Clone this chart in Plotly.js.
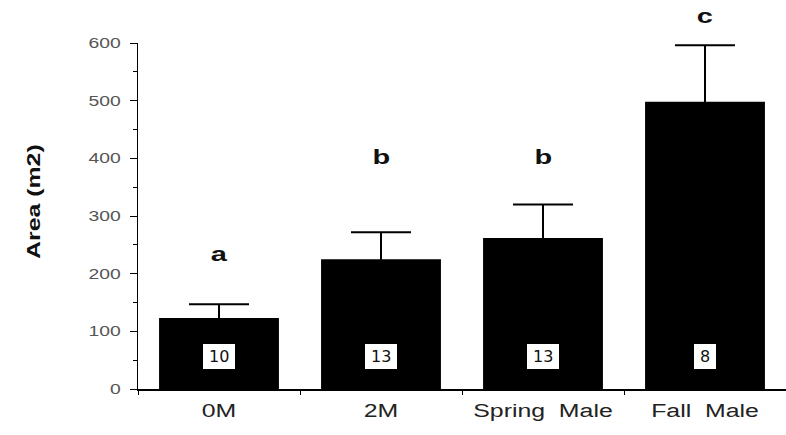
<!DOCTYPE html>
<html>
<head>
<meta charset="utf-8">
<script src="https://cdn.plot.ly/plotly-3.0.1.min.js"></script>
<style>
  html, body { margin: 0; padding: 0; background: #fff; }
  #chart { width: 786px; height: 435px; }
</style>
</head>
<body>
<div id="chart"></div>
<script>
// Home-range area by group, mean + SE, with sample sizes and significance letters
const groups = ['0M', '2M', 'Spring\u00a0\u00a0Male', 'Fall\u00a0\u00a0Male'];
const meanArea = [123, 225, 262, 498];
const seArea = [24, 47, 58, 98];
const sampleSize = ['10', '13', '13', '8'];
const sigLetters = ['a', 'b', 'b', 'c'];
const letterHeight = [235, 404, 404, 648];

const Y_MAX = 600;
const FONT = 'Liberation Sans, Arial, Helvetica, sans-serif';
const WIDE = 1.38; // the typeface on this figure is drawn wide

const bars = {
  type: 'bar',
  x: groups,
  y: meanArea,
  marker: { color: '#000', line: { width: 0 } },
  error_y: {
    type: 'data', symmetric: true, array: seArea,
    color: '#000', thickness: 2, width: 30
  },
  hoverinfo: 'skip'
};

const annotations = [];
// y-axis title
annotations.push({
  xref: 'paper', yref: 'paper', x: -0.1605, y: 0.543,
  text: 'Area (m2)', textangle: -90, showarrow: false,
  xanchor: 'center', yanchor: 'middle',
  font: { family: FONT, size: 18, weight: 'bold', color: '#111' }
});
// significance letters (paper y so the top one may sit above the axis)
groups.forEach((g, i) => {
  annotations.push({
    x: g, y: letterHeight[i] / Y_MAX, xref: 'x', yref: 'paper',
    text: sigLetters[i], showarrow: false,
    xanchor: 'center', yanchor: 'middle',
    font: { family: FONT, size: 21, weight: 'bold', color: '#111' }
  });
});
const firstBox = annotations.length;
// sample sizes in boxes
groups.forEach((g, i) => {
  annotations.push({
    x: g, y: 57, xref: 'x', yref: 'y',
    text: sampleSize[i], showarrow: false,
    xanchor: 'center', yanchor: 'middle',
    bgcolor: '#fff', bordercolor: '#000', borderwidth: 1, borderpad: 6,
    height: 13,
    font: { family: 'DejaVu Sans, sans-serif', size: 16, color: '#111' }
  });
});

const layout = {
  width: 786, height: 435,
  margin: { l: 138, r: 0, t: 43, b: 46 },
  paper_bgcolor: '#fff', plot_bgcolor: '#fff',
  showlegend: false,
  bargap: 0.26,
  xaxis: {
    type: 'category', range: [-0.5, 3.5],
    showline: true, linecolor: '#000', linewidth: 1.5,
    ticks: 'outside', tickson: 'boundaries', ticklen: 4, tickcolor: '#000', tickwidth: 1,
    ticklabelstandoff: 5,
    tickfont: { family: FONT, size: 18, color: '#222' },
    showgrid: false, zeroline: false, fixedrange: true
  },
  yaxis: {
    range: [0, Y_MAX], tick0: 0, dtick: 100,
    showline: true, linecolor: '#000', linewidth: 1.5,
    ticks: 'outside', ticklen: 7, tickcolor: '#000', tickwidth: 1,
    minor: { dtick: 50, ticks: 'outside', ticklen: 4, tickcolor: '#000', tickwidth: 1 },
    ticklabelstandoff: 6,
    tickfont: { family: FONT, size: 14, color: '#555' },
    showgrid: false, zeroline: false, fixedrange: true
  },
  annotations: annotations
};

function widen(el) {
  const w = el.getComputedTextLength();
  if (w > 0) {
    el.setAttribute('textLength', (w * WIDE).toFixed(2));
    el.setAttribute('lengthAdjust', 'spacingAndGlyphs');
  }
}

Plotly.newPlot('chart', [bars], layout, { staticPlot: true }).then(gd => {
  gd.querySelectorAll('.xtick text, .ytick text').forEach(widen);
  gd.querySelectorAll('.annotation').forEach(g => {
    const idx = +g.getAttribute('data-index');
    if (idx < firstBox) {
      g.querySelectorAll('text').forEach(widen);
    }
  });
});
</script>
</body>
</html>
